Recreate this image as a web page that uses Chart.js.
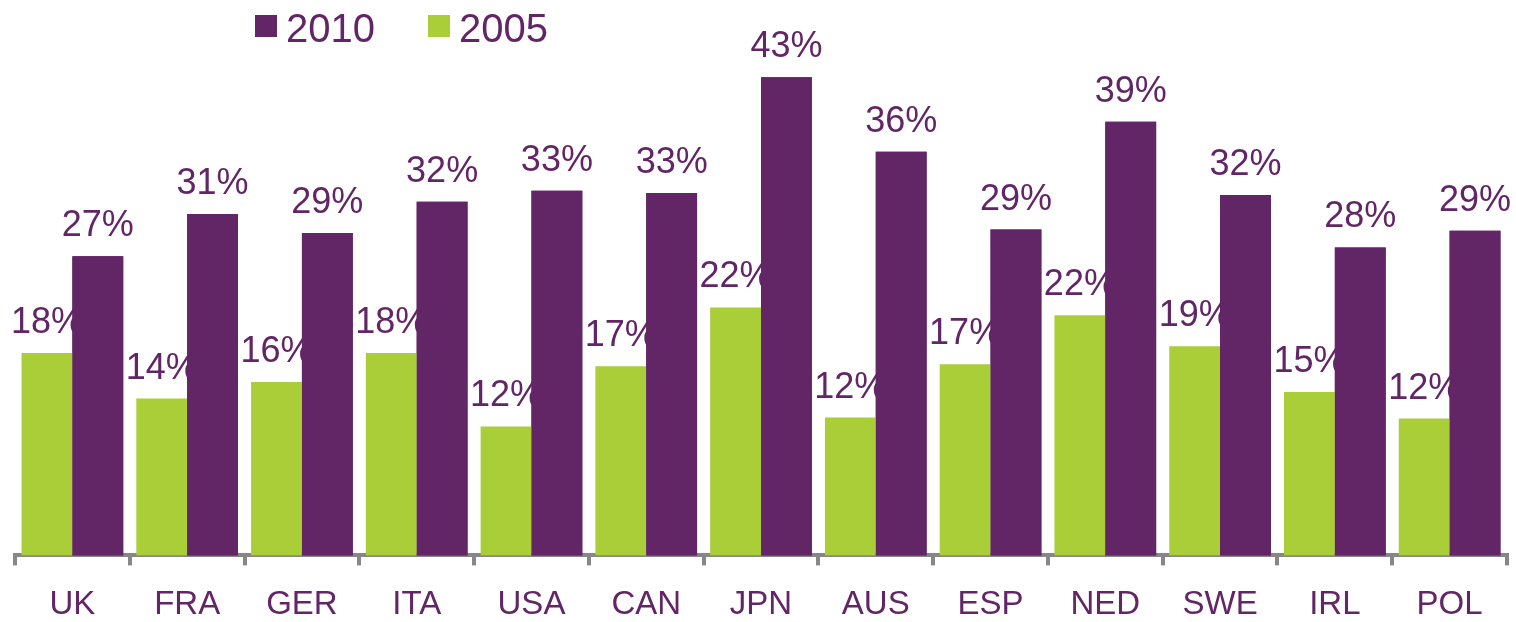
<!DOCTYPE html>
<html>
<head>
<meta charset="utf-8">
<script src="https://cdn.jsdelivr.net/npm/chart.js@4"></script>
<style>
  html, body { margin: 0; padding: 0; background: #fff; }
  #wrap { width: 1516px; height: 622px; }
</style>
</head>
<body>
<div id="wrap"><canvas id="grafico"></canvas></div>
<script>
// Dados
const paises = ['UK', 'FRA', 'GER', 'ITA', 'USA', 'CAN', 'JPN', 'AUS', 'ESP', 'NED', 'SWE', 'IRL', 'POL'];
const valores2005 = [18.2, 14.1, 15.6, 18.2, 11.6, 17.0, 22.3, 12.4, 17.2, 21.6, 18.8, 14.7, 12.3];
const valores2010 = [26.9, 30.7, 29.0, 31.8, 32.8, 32.6, 43.0, 36.3, 29.3, 39.0, 32.4, 27.7, 29.2];
const anos = ['2005', '2010'];

const roxo = '#622566';
const verde = '#a9ce38';
const cinza = '#878787';

// Rótulos de valor acima das barras (verdes por baixo das roxas)
const rotulos = {
    id: 'rotulos',
    afterDatasetsDraw(chart) {
        const ctx = chart.ctx;
        const desenhar = (i) => {
            const meta = chart.getDatasetMeta(i);
            ctx.save();
            ctx.font = '36px "Liberation Sans", Arial, sans-serif';
            ctx.fillStyle = roxo;
            ctx.textAlign = 'center';
            ctx.textBaseline = 'alphabetic';
            meta.data.forEach((bar, j) => {
                const v = chart.data.datasets[i].data[j];
                ctx.fillText(Math.round(v) + '%', bar.x, bar.y - 20);
            });
            ctx.restore();
        };
        desenhar(0);
        // redesenha as barras roxas por cima dos rótulos verdes
        chart.getDatasetMeta(1).data.forEach(bar => bar.draw(ctx));
        desenhar(1);
    }
};

// Legenda: 2010 primeiro, depois 2005
const legenda = {
    id: 'legenda',
    afterDraw(chart) {
        const ctx = chart.ctx;
        const itens = [
            { texto: chart.data.datasets[1].label, cor: chart.data.datasets[1].backgroundColor, x: 255 },
            { texto: chart.data.datasets[0].label, cor: chart.data.datasets[0].backgroundColor, x: 428 }
        ];
        ctx.save();
        ctx.font = '40px "Liberation Sans", Arial, sans-serif';
        ctx.textBaseline = 'alphabetic';
        ctx.textAlign = 'left';
        itens.forEach(it => {
            ctx.fillStyle = it.cor;
            ctx.fillRect(it.x, 15, 22, 22);
            ctx.fillStyle = roxo;
            ctx.fillText(it.texto, it.x + 31, 42);
        });
        ctx.restore();
    }
};

const ctxGrafico = document.getElementById('grafico').getContext('2d');
const grafico = new Chart(ctxGrafico, {
    type: 'bar',
    data: {
        labels: paises,
        datasets: [
            {
                label: anos[0],
                data: valores2005,
                backgroundColor: verde,
                borderWidth: 0
            },
            {
                label: anos[1],
                data: valores2010,
                backgroundColor: roxo,
                borderWidth: 0
            }
        ]
    },
    options: {
        responsive: true,
        maintainAspectRatio: false,
        animation: false,
        layout: {
            padding: { top: 55, left: 15, right: 9, bottom: 0 }
        },
        plugins: {
            legend: { display: false },
            tooltip: { enabled: false }
        },
        datasets: {
            bar: {
                categoryPercentage: 0.886,
                barPercentage: 1.0
            }
        },
        scales: {
            x: {
                afterFit: (eixo) => { eixo.height -= 23; },
                grid: {
                    display: true,
                    offset: true,
                    drawOnChartArea: false,
                    drawTicks: true,
                    tickLength: 10,
                    lineWidth: 4,
                    color: cinza
                },
                border: {
                    display: true,
                    color: cinza,
                    width: 4
                },
                ticks: {
                    color: roxo,
                    padding: 20,
                    font: { family: '"Liberation Sans", Arial, sans-serif', size: 33 }
                }
            },
            y: {
                display: false,
                min: 0,
                max: 45
            }
        }
    },
    plugins: [rotulos, legenda]
});
</script>
</body>
</html>
